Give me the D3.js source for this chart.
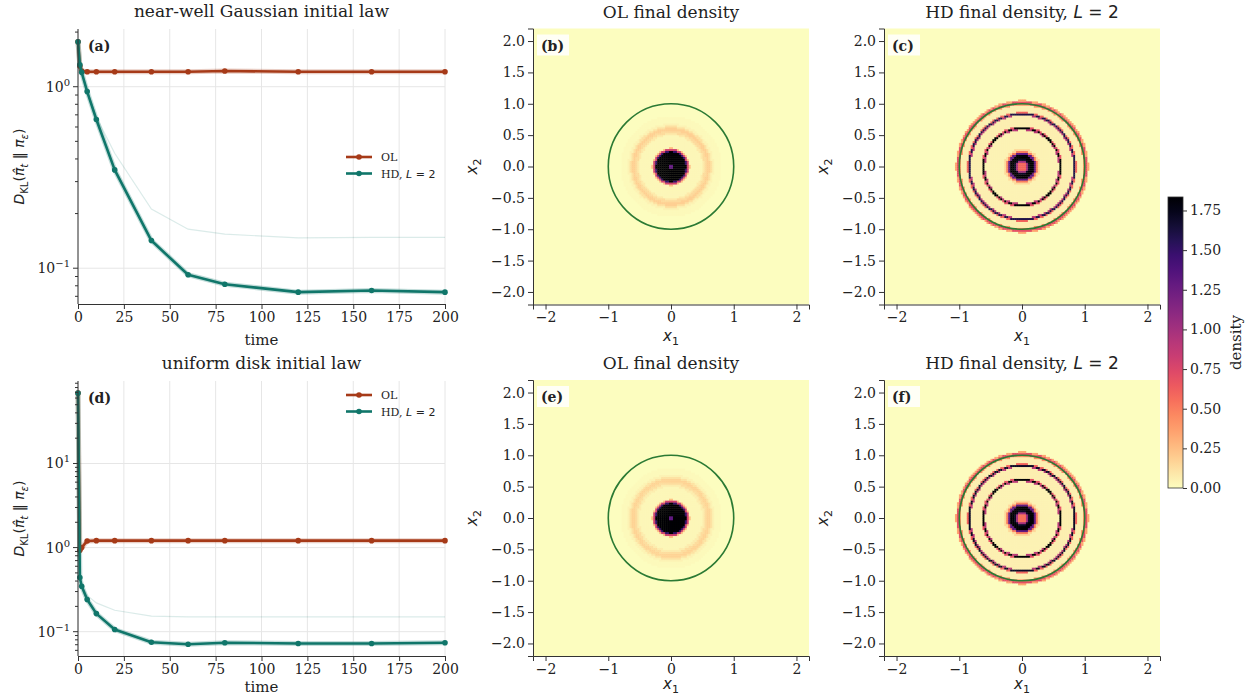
<!DOCTYPE html>
<html>
<head>
<meta charset="utf-8">
<script src="https://cdn.jsdelivr.net/npm/d3@7"></script>
<style>
body { margin: 0; background: #fff; }
text { font-family: "DejaVu Serif", serif; fill: #222; }
</style>
</head>
<body>
<script>
// sample times shared by all KL curves
var times = [0, 1, 2, 5, 10, 20, 40, 60, 80, 120, 160, 200];

// (a) near-well Gaussian initial law
var klOL_a = [1.77, 1.30, 1.22, 1.21, 1.21, 1.21, 1.21, 1.21, 1.22, 1.21, 1.21, 1.21];
var klHD_a = [1.77, 1.32, 1.20, 0.94, 0.66, 0.348, 0.142, 0.092, 0.0816, 0.0738, 0.0753, 0.0738];
var klRef_a = [1.77, 1.32, 1.20, 0.95, 0.68, 0.43, 0.212, 0.164, 0.154, 0.147, 0.148, 0.148];

// (d) uniform disk initial law
var klOL_d = [69, 0.93, 1.0, 1.2, 1.21, 1.21, 1.21, 1.21, 1.21, 1.21, 1.21, 1.21];
var klHD_d = [69, 0.44, 0.347, 0.241, 0.164, 0.106, 0.075, 0.071, 0.074, 0.0724, 0.0724, 0.074];
var klRef_d = [69, 0.44, 0.36, 0.27, 0.22, 0.18, 0.153, 0.15, 0.15, 0.15, 0.15, 0.15];

var xTicks = [0, 25, 50, 75, 100, 125, 150, 175, 200];

// radial density profiles of the final laws: outer radius of each ring, density inside it
var olEdges_b = [0.03, 0.24, 0.26, 0.28, 0.3, 0.5, 0.53, 0.57, 0.62, 0.65, 0.69, 0.8];
var olDens_b  = [1.3, 2.5, 1.5, 0.8, 0.25, 0.03, 0.08, 0.14, 0.18, 0.12, 0.05, 0.02];
var hdEdges_c = [0.07, 0.1, 0.13, 0.2, 0.23, 0.26, 0.29, 0.585, 0.6, 0.625, 0.64, 0.815, 0.83, 0.855, 0.87, 0.98, 1.0, 1.035, 1.055];
var hdDens_c  = [0.6, 1.0, 1.7, 2.3, 1.3, 0.5, 0.15, 0.05, 0.9, 2.1, 0.7, 0.06, 0.9, 1.6, 0.6, 0.06, 0.45, 0.7, 0.35];
var olEdges_e = [0.03, 0.24, 0.26, 0.28, 0.3, 0.5, 0.54, 0.58, 0.63, 0.66, 0.7, 0.8];
var olDens_e  = [1.3, 2.5, 1.5, 0.8, 0.25, 0.03, 0.07, 0.13, 0.17, 0.11, 0.05, 0.02];
var hdEdges_f = [0.07, 0.1, 0.13, 0.2, 0.23, 0.26, 0.29, 0.585, 0.6, 0.625, 0.64, 0.815, 0.83, 0.855, 0.87, 0.98, 1.0, 1.035, 1.055];
var hdDens_f  = [0.55, 1.0, 1.7, 2.3, 1.3, 0.5, 0.15, 0.05, 0.9, 2.2, 0.7, 0.06, 0.9, 1.7, 0.6, 0.06, 0.45, 0.7, 0.35];

var densTicks = [0, 0.25, 0.5, 0.75, 1.0, 1.25, 1.5, 1.75];
var posTicks = [-2, -1, 0, 1, 2];
var posTicksY = [-2, -1.5, -1, -0.5, 0, 0.5, 1, 1.5, 2];

var colOL = "#a63a18", colHD = "#10766a", axisCol = "#333";
var serif = "DejaVu Serif", sans = "DejaVu Sans";
var vmax = 1.835;
var color = d3.scaleSequential(function (t) { return d3.interpolateMagma(1 - t); })
    .domain([0, vmax]).clamp(true);

var svg = d3.select("body").append("svg")
    .attr("width", 1247).attr("height", 700);

function minusFmt(s) { return String(s).replace("-", "\u2212"); }

function styleAxis(a) {
    a.attr("font-family", serif);
    a.selectAll("text").style("font-size", "14px").style("font-family", serif).attr("fill", "#222");
    a.selectAll(".domain").attr("stroke", axisCol);
    a.selectAll(".tick line").attr("stroke", axisCol);
}

function yLabelKL(g, x, y) {
    var t = g.append("text")
        .attr("transform", "translate(" + x + "," + y + ") rotate(-90)")
        .attr("text-anchor", "middle")
        .style("font-family", sans).style("font-size", "14px");
    t.append("tspan").style("font-style", "italic").text("D");
    t.append("tspan").attr("dy", 4).style("font-size", "10px").text("KL");
    t.append("tspan").attr("dy", -4).text("(");
    t.append("tspan").style("font-style", "italic").text("\u03c0\u0302");
    t.append("tspan").attr("dy", 4).style("font-size", "10px").style("font-style", "italic").text("t");
    t.append("tspan").attr("dy", -4).text(" \u2016 ");
    t.append("tspan").style("font-style", "italic").text("\u03c0");
    t.append("tspan").attr("dy", 4).style("font-size", "10px").style("font-style", "italic").text("\u03b5");
    t.append("tspan").attr("dy", -4).text(")");
}

function drawKL(top, title, tag, ol, hd, ref, yDomain, legendY, xlabY) {
    var left = 78, right = 445, bottom = top + 275;
    var x = d3.scaleLinear().domain([0, 200]).range([left, right]);
    var y = d3.scaleLog().domain(yDomain).range([bottom, top]);
    var g = svg.append("g");

    // grid
    g.selectAll(".vg").data(xTicks).enter().append("line")
        .attr("x1", function (d) { return x(d); }).attr("x2", function (d) { return x(d); })
        .attr("y1", top).attr("y2", bottom)
        .attr("stroke", "#e6e6e6").attr("stroke-width", 1);
    var majors = [0.1, 1, 10].filter(function (v) { return v >= yDomain[0] && v <= yDomain[1]; });
    g.selectAll(".hg").data(majors).enter().append("line")
        .attr("x1", left).attr("x2", right)
        .attr("y1", function (d) { return y(d); }).attr("y2", function (d) { return y(d); })
        .attr("stroke", "#e6e6e6").attr("stroke-width", 1);

    var line = function (vals) {
        return d3.line()
            .x(function (d, i) { return x(times[i]); })
            .y(function (d) { return y(d); })(vals);
    };

    // faint reference curve
    g.append("path").attr("d", line(ref)).attr("fill", "none")
        .attr("stroke", colHD).attr("stroke-opacity", 0.15).attr("stroke-width", 1.2);

    [[ol, colOL], [hd, colHD]].forEach(function (s) {
        g.append("path").attr("d", line(s[0])).attr("fill", "none")
            .attr("stroke", s[1]).attr("stroke-opacity", 0.25).attr("stroke-width", 5);
        g.append("path").attr("d", line(s[0])).attr("fill", "none")
            .attr("stroke", s[1]).attr("stroke-width", 2.6).attr("stroke-linejoin", "round");
        g.selectAll(null).data(s[0]).enter().append("circle")
            .attr("cx", function (d, i) { return x(times[i]); })
            .attr("cy", function (d) { return y(d); })
            .attr("r", 2.8).attr("fill", s[1]);
    });

    // axes (left + bottom spines only)
    var xa = g.append("g").attr("transform", "translate(0," + bottom + ")")
        .call(d3.axisBottom(x).tickValues(xTicks).tickSize(5).tickPadding(3));
    styleAxis(xa);

    var minors = y.ticks().filter(function (v) { return majors.indexOf(v) < 0; });
    var ya = g.append("g").attr("transform", "translate(" + left + ",0)");
    ya.selectAll(".mn").data(minors).enter().append("line")
        .attr("x1", -3).attr("x2", 0)
        .attr("y1", function (d) { return y(d); }).attr("y2", function (d) { return y(d); })
        .attr("stroke", axisCol);
    ya.selectAll(".mj").data(majors).enter().append("line")
        .attr("x1", -5).attr("x2", 0)
        .attr("y1", function (d) { return y(d); }).attr("y2", function (d) { return y(d); })
        .attr("stroke", axisCol);
    var lab = ya.selectAll(".lb").data(majors).enter().append("text")
        .attr("x", -8).attr("y", function (d) { return y(d) + 5; })
        .attr("text-anchor", "end").style("font-size", "14px");
    lab.append("tspan").text("10");
    lab.append("tspan").attr("dy", -6).style("font-size", "10px")
        .text(function (d) { return minusFmt(Math.round(Math.log10(d))); });
    ya.append("line").attr("y1", top).attr("y2", bottom).attr("stroke", axisCol);

    g.append("text").attr("x", (left + right) / 2).attr("y", top - 12)
        .attr("text-anchor", "middle").style("font-size", "17px").text(title);
    g.append("text").attr("x", (left + right) / 2).attr("y", xlabY)
        .attr("text-anchor", "middle").style("font-size", "15px").text("time");
    g.append("text").attr("x", 88).attr("y", top + 22)
        .style("font-size", "14px").style("font-weight", "bold").text(tag);
    yLabelKL(g, 24, (top + bottom) / 2);

    // legend
    var leg = g.append("g").attr("transform", "translate(346," + legendY + ")");
    [[colOL, "OL"], [colHD, "HD"]].forEach(function (s, i) {
        var r = leg.append("g").attr("transform", "translate(0," + (i * 16.5) + ")");
        r.append("line").attr("x1", 0).attr("x2", 26).attr("stroke", s[0]).attr("stroke-width", 2.6);
        r.append("circle").attr("cx", 13).attr("r", 2.8).attr("fill", s[0]);
        var t = r.append("text").attr("x", 35).attr("y", 4).style("font-size", "11px");
        t.append("tspan").text(s[1]);
        if (s[1] === "HD") {
            t.append("tspan").text(", ");
            t.append("tspan").style("font-family", sans).style("font-style", "italic").text("L");
            t.append("tspan").style("font-family", sans).text(" = 2");
        }
    });
}

function drawDensity(x0, top, edges, dens, titleParts, tag, xlabY) {
    var size = 276, n = 140;
    var x = d3.scaleLinear().domain([-2.2, 2.2]).range([x0, x0 + size]);
    var y = d3.scaleLinear().domain([-2.2, 2.2]).range([top + size, top]);
    var g = svg.append("g");
    var cw = size / n;

    g.append("rect").attr("x", x0).attr("y", top).attr("width", size).attr("height", size)
        .attr("fill", color(0));

    var cells = [];
    for (var i = 0; i < n; i++) {
        for (var j = 0; j < n; j++) {
            var cx = -2.2 + (i + 0.5) * 4.4 / n, cy = -2.2 + (j + 0.5) * 4.4 / n;
            var r = Math.sqrt(cx * cx + cy * cy);
            var k = d3.bisectRight(edges, r);
            if (k < dens.length) cells.push({ x: cx, y: cy, v: dens[k] });
        }
    }
    g.selectAll(null).data(cells).enter().append("rect")
        .attr("x", function (d) { return x(d.x) - cw / 2; })
        .attr("y", function (d) { return y(d.y) - cw / 2; })
        .attr("width", cw + 0.3).attr("height", cw + 0.3)
        .attr("fill", function (d) { return color(d.v); });

    // unit circle
    g.append("circle").attr("cx", x(0)).attr("cy", y(0)).attr("r", x(1) - x(0))
        .attr("fill", "none").attr("stroke", "#2b7a34").attr("stroke-width", 1.6);

    var xa = g.append("g").attr("transform", "translate(0," + (top + size) + ")")
        .call(d3.axisBottom(x).tickValues(posTicks).tickSize(5).tickPadding(3)
            .tickFormat(function (d) { return minusFmt(d); }));
    var ya = g.append("g").attr("transform", "translate(" + x0 + ",0)")
        .call(d3.axisLeft(y).tickValues(posTicksY).tickSize(5).tickPadding(3)
            .tickFormat(function (d) { return minusFmt(d.toFixed(1)); }));
    styleAxis(xa);
    styleAxis(ya);

    var cxm = x0 + size / 2;
    var tt = g.append("text").attr("x", cxm).attr("y", top - 11)
        .attr("text-anchor", "middle").style("font-size", "17px");
    tt.append("tspan").text(titleParts[0]);
    if (titleParts.length > 1) {
        tt.append("tspan").style("font-family", sans).style("font-style", "italic").text("L");
        tt.append("tspan").style("font-family", sans).text(" = 2");
    }
    var xl = g.append("text").attr("x", cxm).attr("y", xlabY)
        .attr("text-anchor", "middle").style("font-family", sans).style("font-size", "15px");
    xl.append("tspan").style("font-style", "italic").text("x");
    xl.append("tspan").attr("dy", 4).style("font-size", "11px").text("1");
    var yl = g.append("text").attr("transform", "translate(" + (x0 - 56) + "," + (top + size / 2) + ") rotate(-90)")
        .attr("text-anchor", "middle").style("font-family", sans).style("font-size", "15px");
    yl.append("tspan").style("font-style", "italic").text("x");
    yl.append("tspan").attr("dy", 4).style("font-size", "11px").text("2");

    // panel tag on white box
    g.append("rect").attr("x", x0 + 4).attr("y", top + 6).attr("width", 32).attr("height", 21)
        .attr("fill", "#fff").attr("fill-opacity", 0.85);
    g.append("text").attr("x", x0 + 8).attr("y", top + 22)
        .style("font-size", "14px").style("font-weight", "bold").text(tag);
}

drawKL(29, "near-well Gaussian initial law", "(a)", klOL_a, klHD_a, klRef_a, [0.0635, 2.08], 157, 345);
drawKL(381, "uniform disk initial law", "(d)", klOL_d, klHD_d, klRef_d, [0.0514, 95.7], 395, 692);

drawDensity(533, 28.5, olEdges_b, olDens_b, ["OL final density"], "(b)", 341);
drawDensity(884, 28.5, hdEdges_c, hdDens_c, ["HD final density, ", "L"], "(c)", 341);
drawDensity(533, 380, olEdges_e, olDens_e, ["OL final density"], "(e)", 689);
drawDensity(884, 380, hdEdges_f, hdDens_f, ["HD final density, ", "L"], "(f)", 689);

// colorbar
var cbTop = 197, cbBottom = 488, cbLeft = 1168, cbW = 15;
var cy = d3.scaleLinear().domain([0, vmax]).range([cbBottom, cbTop]);
var grad = svg.append("defs").append("linearGradient").attr("id", "cbgrad")
    .attr("x1", 0).attr("y1", 1).attr("x2", 0).attr("y2", 0);
d3.range(0, 1.0001, 0.05).forEach(function (t) {
    grad.append("stop").attr("offset", t).attr("stop-color", color(t * vmax));
});
svg.append("rect").attr("x", cbLeft).attr("y", cbTop).attr("width", cbW)
    .attr("height", cbBottom - cbTop).attr("fill", "url(#cbgrad)")
    .attr("stroke", axisCol).attr("stroke-width", 0.8);
var cba = svg.append("g").attr("transform", "translate(" + (cbLeft + cbW) + ",0)")
    .call(d3.axisRight(cy).tickValues(densTicks).tickSize(4).tickPadding(3)
        .tickFormat(d3.format(".2f")));
cba.select(".domain").remove();
styleAxis(cba);
svg.append("text").attr("transform", "translate(1241," + ((cbTop + cbBottom) / 2) + ") rotate(-90)")
    .attr("text-anchor", "middle").style("font-size", "15px").text("density");
</script>
</body>
</html>
